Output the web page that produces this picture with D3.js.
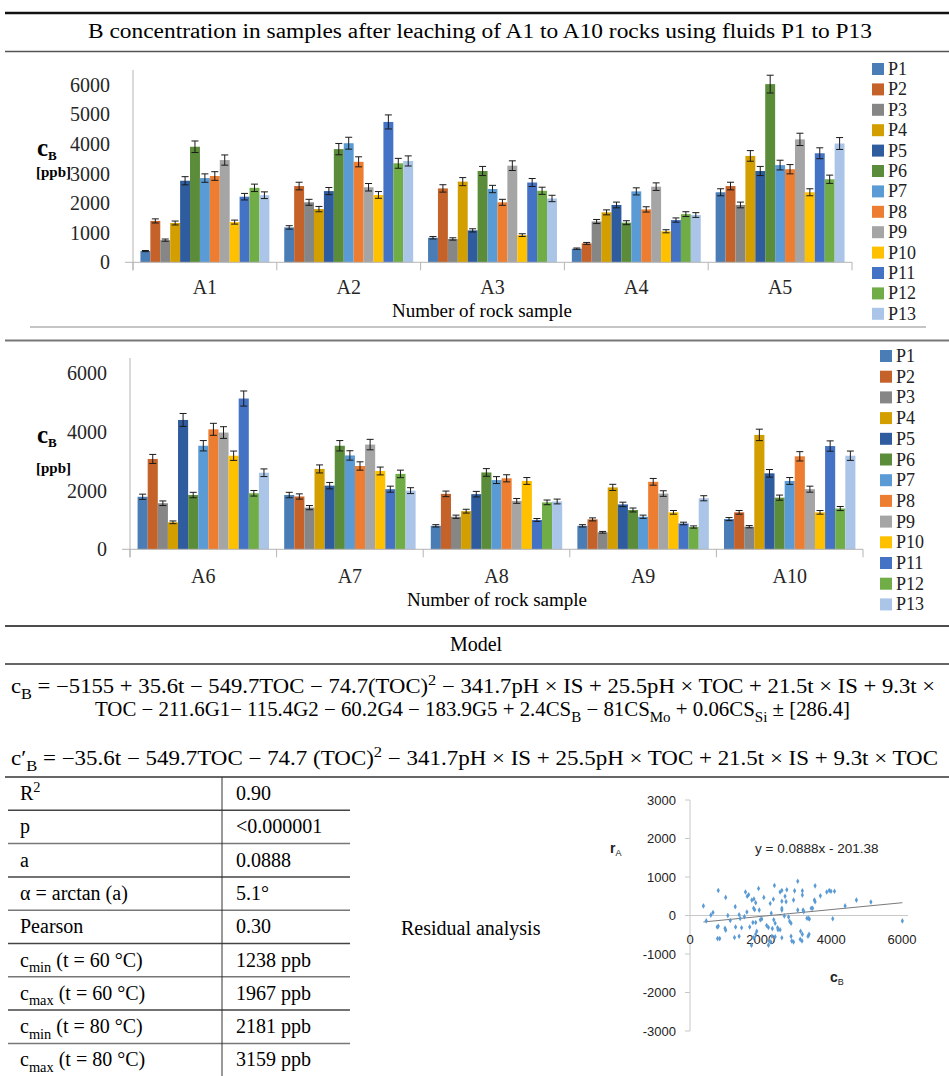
<!DOCTYPE html>
<html>
  <head>
    <meta charset="UTF-8">
    <style>
      body {
        margin: 0;
        background: #fff;
      }

      svg {
        display: block;
        font-family: 'Liberation Serif', 'Times New Roman', serif;
      }

      .scatter text {
        font-family: 'Liberation Sans', Arial, sans-serif;
      }
    </style>
    <script src="https://d3js.org/d3.v7.min.js"></script>
  </head>

  <body>
    <svg id="figure"></svg>

    <script type="text/javascript">
      let fluids = ['P1', 'P2', 'P3', 'P4', 'P5', 'P6', 'P7', 'P8', 'P9', 'P10', 'P11', 'P12', 'P13']
      let fluidColors = ['#4a7db5', '#c5622a', '#868686', '#d39f00', '#2f5c9e', '#5b8c3a', '#5b9bd5',
        '#ed7d31', '#a5a5a5', '#ffc000', '#4472c4', '#70ad47', '#aac5e8']

      let rocksTop = ['A1', 'A2', 'A3', 'A4', 'A5']
      let rocksBottom = ['A6', 'A7', 'A8', 'A9', 'A10']

      // B concentration [ppb], one value per fluid P1..P13
      let concA1 = [380, 1400, 750, 1330, 2760, 3910, 2850, 2920, 3460, 1360, 2220, 2520, 2270]
      let concA2 = [1180, 2580, 2030, 1800, 2410, 3830, 4030, 3400, 2540, 2280, 4750, 3350, 3430]
      let concA3 = [830, 2500, 790, 2730, 1080, 3090, 2480, 2030, 3270, 920, 2700, 2420, 2160]
      let concA4 = [460, 640, 1380, 1690, 1940, 1340, 2400, 1790, 2560, 1050, 1430, 1630, 1600]
      let concA5 = [2370, 2580, 1940, 3600, 3090, 6030, 3290, 3150, 4160, 2370, 3690, 2810, 4020]
      let concA6 = [1790, 3080, 1570, 920, 4410, 1850, 3530, 4090, 3980, 3190, 5140, 1910, 2610]
      let concA7 = [1850, 1800, 1420, 2740, 2170, 3530, 3200, 2840, 3570, 2670, 2050, 2570, 2000]
      let concA8 = [800, 1890, 1110, 1300, 1880, 2620, 2360, 2420, 1650, 2330, 1000, 1600, 1630]
      let concA9 = [800, 1020, 580, 2110, 1530, 1340, 1110, 2300, 1900, 1260, 880, 760, 1740]
      let concA10 = [1030, 1260, 770, 3900, 2590, 1760, 2330, 3170, 2050, 1260, 3520, 1390, 3190]

      // percentage error bars
      let errorPct = 0.05

      // residual analysis: [cB, rA]
      let residualPoints = [
        [380, 250], [460, -140], [590, 10], [650, 80], [800, 650], [770, -300], [800, -280], [780, -600],
        [840, -600], [990, -330], [1010, -380], [1010, 470], [1070, 0], [1140, -130], [1280, 230], [1260, -570],
        [1390, -540], [1290, -300], [1390, 20], [1420, -80], [1460, -320], [1540, -30], [1570, 610], [1610, 90],
        [1620, 500], [1660, 540], [1690, -300], [1740, -770], [1750, 400], [1800, 190], [1780, -180], [1860, -180],
        [1810, 430], [1860, 330], [1940, 700], [1960, 140], [1890, -410], [1860, -490], [1800, -580], [1990, -110],
        [2030, -90], [2090, 470], [2170, -260], [2220, -310], [2270, 310], [2290, -690], [2220, -770], [2300, 60],
        [2330, -340], [2360, 420], [2390, 780], [2370, -110], [2410, -200], [2410, -550], [2490, -370], [2550, -370],
        [2550, 610], [2600, 650], [2600, 140], [2600, -580], [2600, 370], [2670, -10], [2690, 500], [2740, 670],
        [2720, 360], [2790, -40], [2860, -200], [2860, -540], [2880, -660], [2930, -690], [2930, 400], [2960, 640],
        [3050, 890], [3050, 140], [3130, -410], [3180, -490], [3120, -620], [3170, -660], [3180, 640], [3180, 530],
        [3200, 140], [3350, -70], [3380, -90], [3340, -540], [3370, -490], [3430, 190], [3470, 190], [3520, 400],
        [3540, 360], [3540, 770], [3690, 510], [3870, 610], [3940, 650], [3990, 630], [4040, -85], [4390, 250],
        [4710, 400], [5120, 350], [6010, -140], [2320, -540], [2250, -660], [2820, -150], [3220, 100], [3310, -70],
        [4090, 630], [2600, 190], [1830, 150], [2480, -320]
      ]
      let trendSlope = 0.0888
      let trendIntercept = -201.38
      let residualTicksY = [3000, 2000, 1000, 0, -1000, -2000, -3000]
      let residualTicksX = [0, 2000, 4000, 6000]

      let statNames = ['R^{2}', 'p', 'a', 'α = arctan (a)', 'Pearson', 'c_{min} (t = 60 °C)',
        'c_{max} (t = 60 °C)', 'c_{min} (t = 80 °C)', 'c_{max} (t = 80 °C)']
      let statValues = ['0.90', '<0.000001', '0.0888', '5.1°', '0.30', '1238 ppb', '1967 ppb', '2181 ppb', '3159 ppb']

      let serifFont = "'Liberation Serif', 'Times New Roman', serif"

      let svg = d3.select('#figure')
        .attr('width', 949)
        .attr('height', 1076)

      // text with _{sub} and ^{sup} markup
      function richText(sel, str, size) {
        let parts = str.split(/([_^]\{[^}]*\})/)
        let shift = 0
        parts.forEach(p => {
          if (!p) return
          let m = p.match(/^([_^])\{([^}]*)\}$/)
          let target = 0
          let content = p
          let fs = size
          if (m) {
            target = m[1] === '_' ? size * 0.28 : -size * 0.4
            content = m[2]
            fs = size * 0.72
          }
          sel.append('tspan')
            .attr('dy', target - shift)
            .style('font-size', fs + 'px')
            .text(content)
          shift = target
        })
        return sel
      }

      function rule(x1, x2, y, color, width) {
        svg.append('line')
          .attr('x1', x1).attr('x2', x2)
          .attr('y1', y).attr('y2', y)
          .attr('stroke', color)
          .attr('stroke-width', width)
      }

      function drawFrame() {
        rule(5, 949, 13, '#111', 2.5)
        svg.append('text')
          .attr('x', 88).attr('y', 38)
          .attr('textLength', 784)
          .attr('lengthAdjust', 'spacingAndGlyphs')
          .style('font-size', '20px')
          .text('B concentration in samples after leaching of A1 to A10 rocks using fluids P1 to P13')
        rule(5, 949, 51.5, '#555', 1.5)
        rule(30, 926, 327, '#8a8a8a', 1)
        rule(5, 949, 340.5, '#777', 2)
        rule(5, 949, 626, '#111', 1.5)
      }

      function drawBarChart(rocks, values, cfg) {
        let xOuter = d3.scaleBand()
          .domain(rocks)
          .range([cfg.left, cfg.right])
        let xInner = d3.scaleBand()
          .domain(fluids)
          .range([0, xOuter.bandwidth()])
          .paddingOuter(0.75)
        let y = d3.scaleLinear()
          .domain([0, 6000])
          .range([cfg.bottom, cfg.top])
        let color = d3.scaleOrdinal().domain(fluids).range(fluidColors)

        let rows = rocks.map((r, i) => ({rock: r, items: fluids.map((f, j) => ({fluid: f, value: values[i][j]}))}))

        let groups = svg.selectAll('.grp-' + cfg.id)
          .data(rows)
          .enter().append('g')
          .attr('class', 'grp-' + cfg.id)
          .attr('transform', d => `translate(${xOuter(d.rock)}, 0)`)

        groups.selectAll('rect')
          .data(d => d.items)
          .enter().append('rect')
          .attr('x', d => xInner(d.fluid))
          .attr('y', d => y(d.value))
          .attr('width', xInner.bandwidth())
          .attr('height', d => y(0) - y(d.value))
          .attr('fill', d => color(d.fluid))

        let err = groups.selectAll('.err')
          .data(d => d.items)
          .enter().append('g')
          .attr('class', 'err')
          .attr('stroke', '#1a1a1a')
          .attr('stroke-width', 1)
        let cx = d => xInner(d.fluid) + xInner.bandwidth() / 2
        err.append('line')
          .attr('x1', cx).attr('x2', cx)
          .attr('y1', d => y(d.value * (1 + errorPct)))
          .attr('y2', d => y(d.value * (1 - errorPct)))
        err.append('line')
          .attr('x1', d => cx(d) - 3.5).attr('x2', d => cx(d) + 3.5)
          .attr('y1', d => y(d.value * (1 + errorPct)))
          .attr('y2', d => y(d.value * (1 + errorPct)))
        err.append('line')
          .attr('x1', d => cx(d) - 3.5).attr('x2', d => cx(d) + 3.5)
          .attr('y1', d => y(d.value * (1 - errorPct)))
          .attr('y2', d => y(d.value * (1 - errorPct)))

        // axes
        let axisY = d3.axisLeft(y)
          .tickValues(d3.range(0, 6001, cfg.step))
          .tickSize(0)
          .tickPadding(23)
          .tickFormat(d3.format('d'))
        let gy = svg.append('g')
          .attr('transform', `translate(${cfg.left}, 0)`)
          .call(axisY)
          .attr('font-family', serifFont)
          .attr('font-size', 20)
        gy.select('.domain').remove()
        gy.selectAll('text').attr('fill', '#262626')

        svg.append('line')
          .attr('x1', cfg.left).attr('x2', cfg.left)
          .attr('y1', cfg.axisTop).attr('y2', cfg.bottom + 8)
          .attr('stroke', '#b4b4b4')

        let axisX = d3.axisBottom(xOuter)
          .tickSize(0)
          .tickPadding(cfg.labelPad)
        let gx = svg.append('g')
          .attr('transform', `translate(0, ${cfg.bottom})`)
          .call(axisX)
          .attr('font-family', serifFont)
          .attr('font-size', 20)
        gx.select('.domain').remove()
        gx.selectAll('text').attr('fill', '#262626')

        svg.append('line')
          .attr('x1', cfg.left - 8).attr('x2', cfg.right)
          .attr('y1', cfg.bottom).attr('y2', cfg.bottom)
          .attr('stroke', '#b4b4b4')
        svg.selectAll('.sep-' + cfg.id)
          .data(rocks.map(r => xOuter(r)).concat([cfg.right]))
          .enter().append('line')
          .attr('class', 'sep-' + cfg.id)
          .attr('x1', d => d).attr('x2', d => d)
          .attr('y1', cfg.bottom).attr('y2', cfg.bottom + 8)
          .attr('stroke', '#b4b4b4')

        svg.append('text')
          .attr('x', cfg.titleX).attr('y', cfg.titleY)
          .attr('text-anchor', 'middle')
          .style('font-size', '19px')
          .text('Number of rock sample')

        // y label
        let lab = svg.append('text')
          .attr('x', 37).attr('y', cfg.cbY)
          .style('font-weight', 'bold')
        lab.append('tspan').style('font-size', '25px').text('c')
        lab.append('tspan').attr('dy', 4).style('font-size', '13px').text('B')
        svg.append('text')
          .attr('x', 36).attr('y', cfg.ppbY)
          .style('font-weight', 'bold')
          .style('font-size', '15px')
          .text('[ppb]')

        // legend
        let legend = svg.selectAll('.legend-' + cfg.id)
          .data(fluids)
          .enter().append('g')
          .attr('class', 'legend-' + cfg.id)
          .attr('transform', (d, i) => `translate(${cfg.legendX}, ${cfg.legendY + i * cfg.legendStep})`)
        legend.append('rect')
          .attr('x', 0).attr('y', -6)
          .attr('width', 12).attr('height', 12)
          .attr('fill', d => color(d))
        legend.append('text')
          .attr('x', 16).attr('y', 6)
          .attr('font-family', serifFont)
          .style('font-size', '18px')
          .style('fill', '#222')
          .text(d => d)
      }

      function drawModel() {
        svg.append('text')
          .attr('x', 476).attr('y', 651)
          .attr('text-anchor', 'middle')
          .style('font-size', '20px')
          .text('Model')
        rule(5, 949, 664, '#333', 1.5)

        richText(svg.append('text').attr('x', 11).attr('y', 693)
          .attr('textLength', 924).attr('lengthAdjust', 'spacingAndGlyphs'),
          'c_{B} = −5155 + 35.6t − 549.7TOC − 74.7(TOC)^{2} − 341.7pH × IS + 25.5pH × TOC + 21.5t × IS + 9.3t ×', 20)
        richText(svg.append('text').attr('x', 95).attr('y', 716)
          .attr('textLength', 755).attr('lengthAdjust', 'spacingAndGlyphs'),
          'TOC − 211.6G1− 115.4G2 − 60.2G4 − 183.9G5 + 2.4CS_{B} − 81CS_{Mo} + 0.06CS_{Si} ± [286.4]', 20)
        richText(svg.append('text').attr('x', 11).attr('y', 765)
          .attr('textLength', 927).attr('lengthAdjust', 'spacingAndGlyphs'),
          'c′_{B} = −35.6t − 549.7TOC − 74.7 (TOC)^{2} − 341.7pH × IS + 25.5pH × TOC + 21.5t × IS + 9.3t × TOC', 20)
      }

      function drawTable() {
        let top = 777
        let step = 33.3
        rule(5, 949, top, '#333', 1.5)
        statNames.forEach((name, i) => {
          let y0 = top + i * step
          if (i > 0) rule(8, 350, y0, i % 2 ? '#444' : '#777', 1.5)
          richText(svg.append('text').attr('x', 20).attr('y', y0 + 23), name, 20)
          svg.append('text')
            .attr('x', 236).attr('y', y0 + 23)
            .style('font-size', '20px')
            .text(statValues[i])
        })
        svg.append('line')
          .attr('x1', 222).attr('x2', 222)
          .attr('y1', top).attr('y2', 1076)
          .attr('stroke', '#333')
        svg.append('text')
          .attr('x', 401).attr('y', 935)
          .style('font-size', '20px')
          .text('Residual analysis')
      }

      function drawResiduals() {
        let x = d3.scaleLinear().domain([0, 6000]).range([690, 902])
        let y = d3.scaleLinear().domain([-3000, 3000]).range([1031, 800])
        let g = svg.append('g').attr('class', 'scatter')

        g.append('line')
          .attr('x1', x(0)).attr('x2', x(0))
          .attr('y1', y(3000)).attr('y2', y(-3000))
          .attr('stroke', '#c8c8c8')
        g.selectAll('.ytick')
          .data(residualTicksY)
          .enter().append('line')
          .attr('x1', x(0) - 5).attr('x2', x(0))
          .attr('y1', d => y(d)).attr('y2', d => y(d))
          .attr('stroke', '#c8c8c8')
        g.selectAll('.ylab')
          .data(residualTicksY)
          .enter().append('text')
          .attr('x', 676).attr('y', d => y(d) + 4.5)
          .attr('text-anchor', 'end')
          .style('font-size', '13px')
          .style('fill', '#222')
          .text(d => d)
        g.append('line')
          .attr('x1', x(0) - 4).attr('x2', 908)
          .attr('y1', y(0)).attr('y2', y(0))
          .attr('stroke', '#c8c8c8')
        g.selectAll('.xlab')
          .data(residualTicksX)
          .enter().append('text')
          .attr('x', d => x(d)).attr('y', y(0) + 28)
          .attr('text-anchor', 'middle')
          .style('font-size', '13px')
          .style('fill', '#222')
          .text(d => d)

        let xs = d3.extent(residualPoints, d => d[0])
        g.append('line')
          .attr('x1', x(xs[0])).attr('x2', x(xs[1]))
          .attr('y1', y(trendSlope * xs[0] + trendIntercept))
          .attr('y2', y(trendSlope * xs[1] + trendIntercept))
          .attr('stroke', '#7a7a7a')
          .attr('stroke-width', 1)

        g.selectAll('.pt')
          .data(residualPoints)
          .enter().append('path')
          .attr('d', d3.symbol(d3.symbolDiamond).size(9))
          .attr('transform', d => `translate(${x(d[0])}, ${y(d[1])})`)
          .attr('fill', '#5b9bd5')

        g.append('text')
          .attr('x', 755).attr('y', 853)
          .style('font-size', '13.5px')
          .style('fill', '#222')
          .text('y = 0.0888x - 201.38')

        let ra = g.append('text').attr('x', 610).attr('y', 853)
          .style('font-weight', 'bold').style('fill', '#222')
        ra.append('tspan').style('font-size', '14px').text('r')
        ra.append('tspan').attr('dy', 3).style('font-size', '9px').style('font-weight', 'normal').text('A')

        let cb = g.append('text').attr('x', 830).attr('y', 982)
          .style('font-weight', 'bold').style('fill', '#222')
        cb.append('tspan').style('font-size', '14px').text('c')
        cb.append('tspan').attr('dy', 3).style('font-size', '9px').style('font-weight', 'normal').text('B')
      }

      drawFrame()
      drawBarChart(rocksTop, [concA1, concA2, concA3, concA4, concA5], {
        id: 'top', left: 133, right: 852, bottom: 262.3, top: 85, axisTop: 70, step: 1000,
        labelPad: 18, titleX: 482, titleY: 317, cbY: 156, ppbY: 177,
        legendX: 872, legendY: 69, legendStep: 20.4
      })
      drawBarChart(rocksBottom, [concA6, concA7, concA8, concA9, concA10], {
        id: 'bottom', left: 130, right: 863, bottom: 549.3, top: 373.3, axisTop: 358, step: 2000,
        labelPad: 20, titleX: 497, titleY: 606, cbY: 443, ppbY: 473,
        legendX: 880, legendY: 356, legendStep: 20.7
      })
      drawModel()
      drawTable()
      drawResiduals()
    </script>
  </body>
</html>
